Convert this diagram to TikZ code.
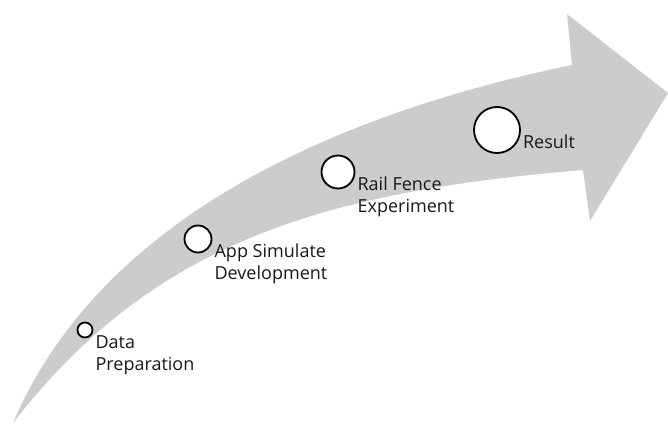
\documentclass[tikz,border=0pt]{standalone}
\usepackage{fontspec}
\setmainfont{Open Sans}
\usetikzlibrary{positioning}
\definecolor{arrowgray}{RGB}{204,204,204}
\definecolor{textdark}{RGB}{24,24,24}

\begin{document}
\begin{tikzpicture}[x=1pt,y=-1pt,
    milestone/.style={draw,circle,line width=1.8pt,fill=white,inner sep=0pt},
    stagetext/.style={align=left,inner sep=0pt,text=textdark,font=\fontsize{18}{22}\selectfont}]
    \useasboundingbox (0,0) rectangle (668,425);

    % Curved arrow
    \fill[arrowgray] (13,423) .. controls (112,190) and (397,101) .. (572,65) -- (567,14) -- (668,93) -- (590,221) -- (583,170) .. controls (317,192) and (151,245) .. (13,423) -- cycle;

    % Data preparation
    \node[milestone,minimum size=15pt] (data) at (85,330) {};
    \node[stagetext,below right=5pt and 2pt of data.east] (datalabel) {Data\\Preparation};

    % App simulate development
    \node[milestone,minimum size=27pt] (app) at (198,239) {};
    \node[stagetext,below right=5pt and 2pt of app.east] (applabel) {App Simulate\\Development};

    % Rail fence experiment
    \node[milestone,minimum size=33pt] (rail) at (338,172) {};
    \node[stagetext,below right=5pt and 2pt of rail.east] (raillabel) {Rail Fence\\Experiment};

    % Result
    \node[milestone,minimum size=46pt] (result) at (497,130) {};
    \node[stagetext,below right=5pt and 2pt of result.east] (resultlabel) {Result};
\end{tikzpicture}
\end{document}
